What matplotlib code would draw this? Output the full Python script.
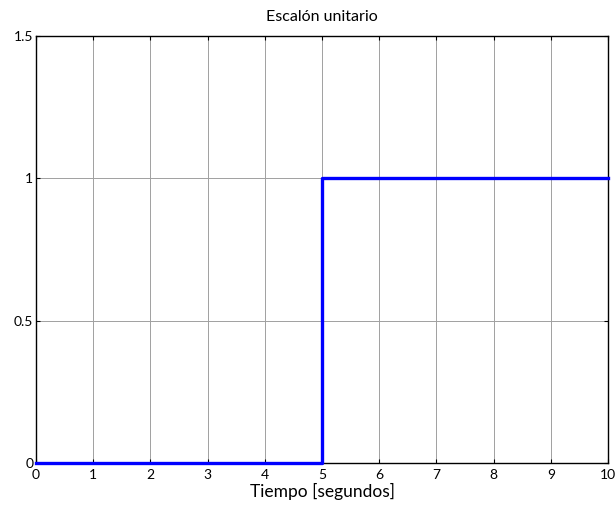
import matplotlib
matplotlib.use('Agg')
import matplotlib.pyplot as plt

# escalon unitario u(t-5)
tiempo = [0, 5, 10]
escalon = [0, 1, 1]
xticks = [0, 1, 2, 3, 4, 5, 6, 7, 8, 9, 10]
yticks = [0, 0.5, 1, 1.5]
ytick_labels = ['0', '0.5', '1', '1.5']

plt.rcParams['font.family'] = ['Lato', 'DejaVu Sans']

fig = plt.figure( figsize=(6.16, 5.09), dpi=100 )
ax = fig.add_axes( [ 36/616, 1 - 463/509, 572/616, 427/509 ] )

ax.plot( tiempo, escalon, drawstyle='steps-post', color='#0000ff', linewidth=2.4, zorder=3, clip_on=False )

ax.set_xlim( 0, 10 )
ax.set_ylim( 0, 1.5 )
ax.set_xticks( xticks )
ax.set_yticks( yticks )
ax.set_yticklabels( ytick_labels )
ax.grid( True, color='#a0a0a0', linewidth=0.7, linestyle='-' )
ax.tick_params( direction='in', length=3, width=0.8, labelsize=10, top=True, right=True )
ax.tick_params( axis='x', pad=4 )
ax.tick_params( axis='y', pad=2 )
for s in ax.spines.values():
    s.set_linewidth( 1.0 )

ax.set_title( 'Escalón unitario', fontsize=11.5, pad=11 )
ax.set_xlabel( 'Tiempo [segundos]', fontsize=12.5, labelpad=2 )

fig.savefig( 'out.png', dpi=100 )
